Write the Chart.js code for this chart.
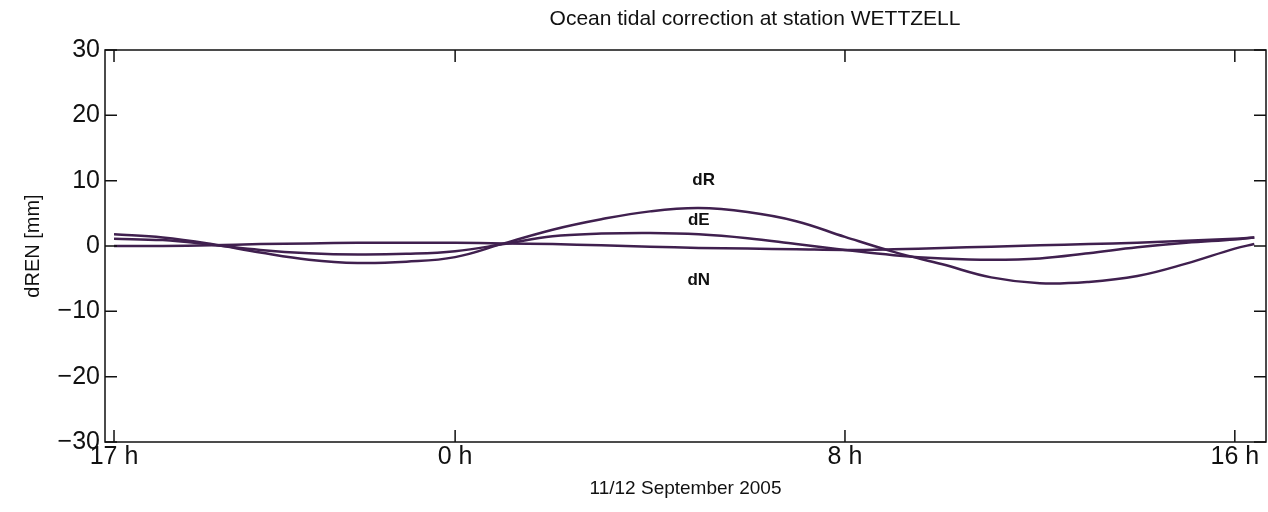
<!DOCTYPE html>
<html>
<head>
<meta charset="utf-8">
<script src="https://cdn.jsdelivr.net/npm/chart.js@4.4.0/dist/chart.umd.min.js"></script>
<style>
  html, body { margin: 0; padding: 0; background: #fff; }
  #wrap { width: 1268px; height: 512px; }
</style>
</head>
<body>
<div id="wrap"><canvas id="tideChart" width="1268" height="512"></canvas></div>
<script>
// Hours since 17 h on 11 September 2005
const hours = [0, 1, 2, 3, 4, 5, 6, 7, 8, 9, 10, 11, 12, 13, 14, 15, 16, 17, 18, 19, 20, 21, 22, 23, 23.4];

// Displacements in mm
const dR = [1.8, 1.3, 0.3, -1.0, -2.1, -2.6, -2.4, -1.7, 0.4, 2.5, 4.1, 5.3, 5.8, 5.2, 3.8, 1.4, -0.9, -2.8, -4.8, -5.7, -5.5, -4.6, -2.7, -0.4, 0.3];
const dE = [1.1, 0.9, 0.2, -0.6, -1.1, -1.3, -1.2, -0.8, 0.3, 1.5, 1.9, 2.0, 1.8, 1.2, 0.3, -0.6, -1.4, -1.9, -2.1, -1.9, -1.1, -0.2, 0.5, 1.0, 1.3];
const dN = [0.0, 0.0, 0.1, 0.3, 0.4, 0.5, 0.5, 0.5, 0.4, 0.3, 0.1, -0.1, -0.3, -0.4, -0.5, -0.6, -0.5, -0.3, -0.1, 0.1, 0.3, 0.5, 0.8, 1.1, 1.3];

// x ticks
const tickHours = [0, 7, 15, 23];
const tickLabels = ['17 h', '0 h', '8 h', '16 h'];
const yTicks = [-30, -20, -10, 0, 10, 20, 30];

// in-plot series labels
const seriesNames = ['dR', 'dE', 'dN'];
const seriesLabelHour = [12.1, 12.0, 12.0];
const seriesLabelValue = [10, 4, -5.2];

const fontFamily = '"Liberation Sans", Arial, Helvetica, sans-serif';
const lineColor = '#40204f';

const framePlugin = {
    id: 'frame',
    afterDraw(chart) {
        const { ctx, chartArea: a, scales } = chart;
        const xs = scales.x, ys = scales.y;
        ctx.save();
        ctx.strokeStyle = '#111';
        ctx.lineWidth = 1.5;
        ctx.strokeRect(a.left, a.top, a.right - a.left, a.bottom - a.top);

        // inward ticks on all four sides
        const tl = 12;
        ctx.beginPath();
        tickHours.forEach(h => {
            const px = xs.getPixelForValue(h);
            ctx.moveTo(px, a.bottom); ctx.lineTo(px, a.bottom - tl);
            ctx.moveTo(px, a.top); ctx.lineTo(px, a.top + tl);
        });
        yTicks.forEach(v => {
            const py = ys.getPixelForValue(v);
            ctx.moveTo(a.left, py); ctx.lineTo(a.left + tl, py);
            ctx.moveTo(a.right, py); ctx.lineTo(a.right - tl, py);
        });
        ctx.stroke();

        // series labels
        ctx.fillStyle = '#111';
        ctx.font = 'bold 17px ' + fontFamily;
        ctx.textAlign = 'center';
        ctx.textBaseline = 'middle';
        seriesNames.forEach((n, i) => {
            ctx.fillText(n, xs.getPixelForValue(seriesLabelHour[i]), ys.getPixelForValue(seriesLabelValue[i]));
        });

        // title
        ctx.font = '21px ' + fontFamily;
        ctx.fillText('Ocean tidal correction at station WETTZELL', 755, 19);
        ctx.restore();
    }
};

function makeSeries(name, values) {
    return {
        label: name,
        data: hours.map((h, i) => ({ x: h, y: values[i] })),
        borderColor: lineColor,
        borderWidth: 2.5,
        pointRadius: 0,
        tension: 0.4,
        fill: false
    };
}

const ctx = document.getElementById('tideChart').getContext('2d');
const tideChart = new Chart(ctx, {
    type: 'line',
    data: {
        datasets: [
            makeSeries('dN', dN),
            makeSeries('dE', dE),
            makeSeries('dR', dR)
        ]
    },
    options: {
        responsive: false,
        devicePixelRatio: 1,
        animation: false,
        layout: { padding: { top: 50, right: 2, left: 0, bottom: 0 } },
        plugins: {
            legend: { display: false },
            tooltip: { enabled: false },
            title: { display: false }
        },
        scales: {
            x: {
                type: 'linear',
                min: -0.185,
                max: 23.64,
                afterBuildTicks(scale) {
                    scale.ticks = tickHours.map(v => ({ value: v }));
                },
                afterFit(scale) { scale.height = 70; },
                grid: { display: false, drawTicks: false },
                border: { display: false },
                ticks: {
                    autoSkip: false,
                    maxRotation: 0,
                    padding: 0,
                    color: '#111',
                    font: { family: fontFamily, size: 25 },
                    callback: (v) => tickLabels[tickHours.indexOf(v)]
                },
                title: {
                    display: true,
                    text: '11/12 September 2005',
                    color: '#111',
                    font: { family: fontFamily, size: 19 },
                    padding: { top: 0, bottom: 12 }
                }
            },
            y: {
                min: -30,
                max: 30,
                afterBuildTicks(scale) {
                    scale.ticks = yTicks.map(v => ({ value: v }));
                },
                afterFit(scale) { scale.width = 105; },
                grid: { display: false, drawTicks: false },
                border: { display: false },
                ticks: {
                    padding: 5,
                    color: '#111',
                    font: { family: fontFamily, size: 25 },
                    callback: (v) => (v < 0 ? '\u2212' + Math.abs(v) : String(v))
                },
                title: {
                    display: true,
                    text: 'dREN [mm]',
                    color: '#111',
                    font: { family: fontFamily, size: 20 },
                    padding: { top: 21, bottom: 0 }
                }
            }
        }
    },
    plugins: [framePlugin]
});
</script>
</body>
</html>
